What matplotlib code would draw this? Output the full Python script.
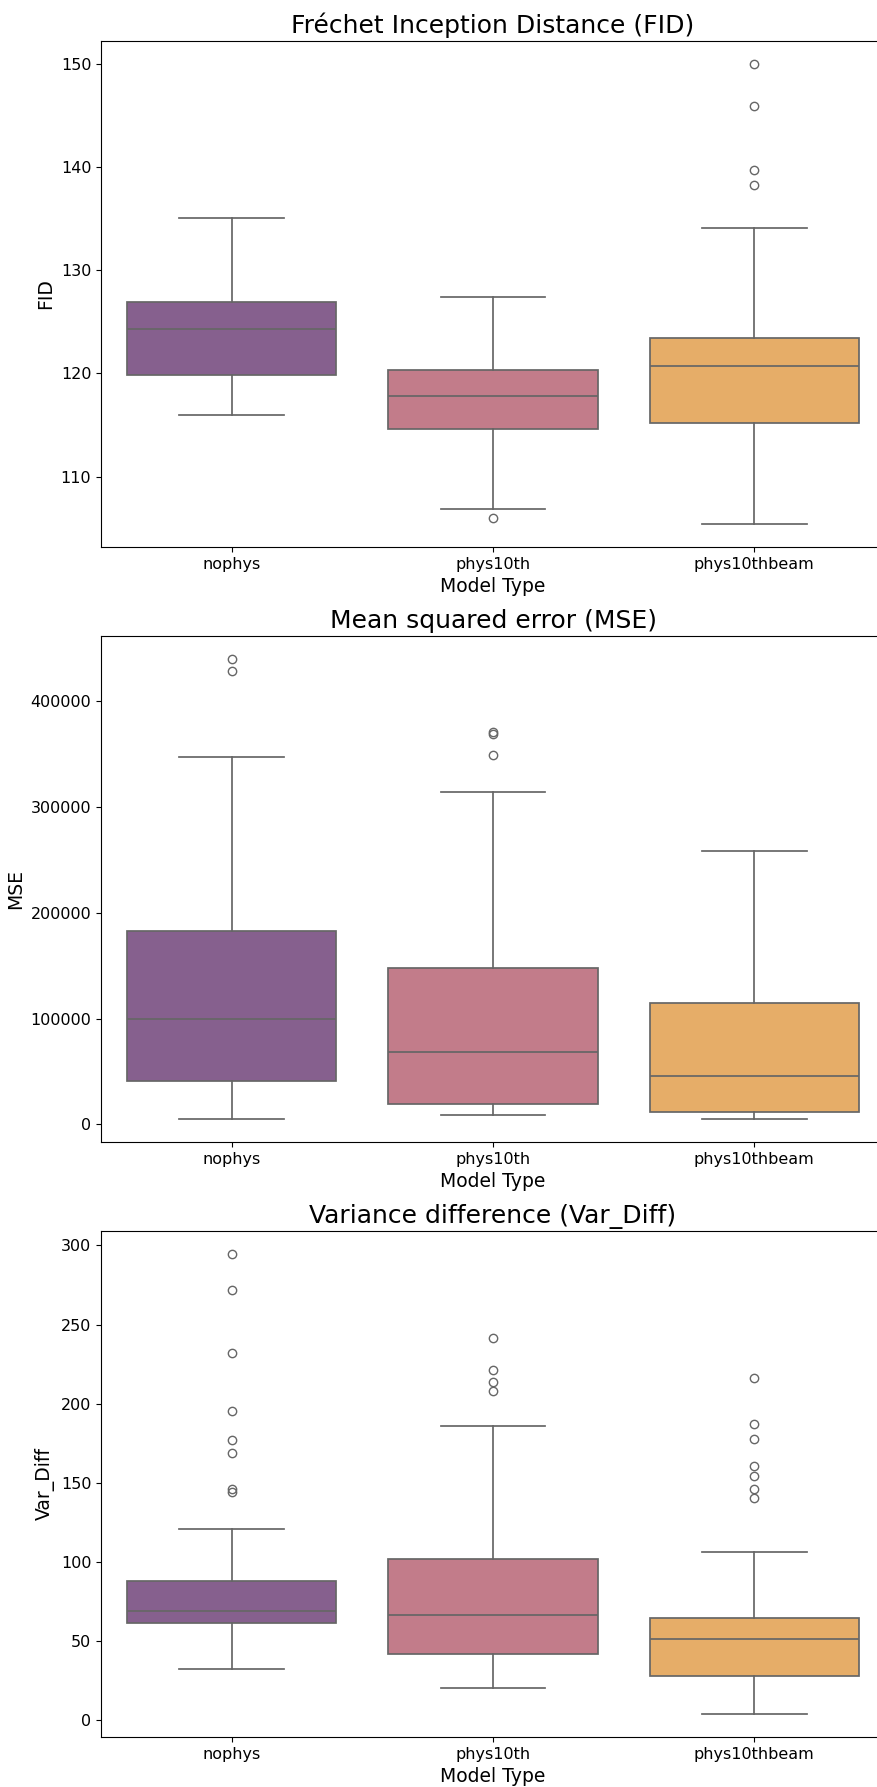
import matplotlib.pyplot as plt

models = ['nophys', 'phys10th', 'phys10thbeam']
colors = ['#86608e', '#c27c8a', '#e6ad68']

# FID
fid_whislo = [115.96, 106.9, 105.4]
fid_q1 = [119.8, 114.6, 115.2]
fid_med = [124.3, 117.8, 120.7]
fid_q3 = [126.9, 120.3, 123.4]
fid_whishi = [135.1, 127.4, 134.1]
fid_fliers = [[], [106.0], [150.0, 145.9, 139.7, 138.3]]

# MSE
mse_whislo = [5060, 8680, 5060]
mse_q1 = [40870, 18800, 11570]
mse_med = [99460, 68700, 45900]
mse_q3 = [183000, 147900, 114300]
mse_whishi = [347200, 313900, 257900]
mse_fliers = [[439800, 428600], [370700, 369300, 348600], []]

# Var_Diff
var_whislo = [32.6, 20.3, 4.0]
var_q1 = [61.3, 42.1, 27.9]
var_med = [69.3, 66.5, 51.1]
var_q3 = [88.0, 102.2, 64.8]
var_whishi = [121.1, 186.0, 106.2]
var_fliers = [[294.6, 271.8, 232.1, 195.7, 177.0, 168.9, 146.0, 144.1],
              [241.8, 221.2, 213.6, 208.0],
              [216.0, 186.9, 177.9, 160.9, 154.5, 146.2, 140.3]]

panels = [
    ('Fréchet Inception Distance (FID)', 'FID',
     fid_whislo, fid_q1, fid_med, fid_q3, fid_whishi, fid_fliers),
    ('Mean squared error (MSE)', 'MSE',
     mse_whislo, mse_q1, mse_med, mse_q3, mse_whishi, mse_fliers),
    ('Variance difference (Var_Diff)', 'Var_Diff',
     var_whislo, var_q1, var_med, var_q3, var_whishi, var_fliers),
]

W, H = 877, 1787
fig = plt.figure(figsize=(W / 100, H / 100), dpi=100)

line_c = '#666666'
for k, (title, ylab, wlo, q1, med, q3, whi, fl) in enumerate(panels):
    top = 41 + k * 595
    bottom = top + 506
    ax = fig.add_axes([101 / W, 1 - bottom / H, 784 / W, 506 / H])
    stats = []
    for i in range(3):
        stats.append({'whislo': wlo[i], 'q1': q1[i], 'med': med[i],
                      'q3': q3[i], 'whishi': whi[i], 'fliers': fl[i]})
    bp = ax.bxp(stats, positions=range(3), widths=0.8, patch_artist=True,
                capwidths=0.4,
                boxprops=dict(edgecolor=line_c, linewidth=1.25),
                medianprops=dict(color=line_c, linewidth=1.25),
                whiskerprops=dict(color=line_c, linewidth=1.25),
                capprops=dict(color=line_c, linewidth=1.25),
                flierprops=dict(marker='o', markersize=6, markerfacecolor='none',
                                markeredgecolor=line_c, markeredgewidth=1.0))
    for patch, c in zip(bp['boxes'], colors):
        patch.set_facecolor(c)
    ax.set_xlim(-0.5, 2.5)
    ax.set_xticks(range(3))
    ax.set_xticklabels(models)
    ax.tick_params(labelsize=11.5)
    ax.set_title(title, fontsize=18)
    ax.set_xlabel('Model Type', fontsize=13.5)
    ax.set_ylabel(ylab, fontsize=13.5)

fig.savefig('out.png', dpi=100)
